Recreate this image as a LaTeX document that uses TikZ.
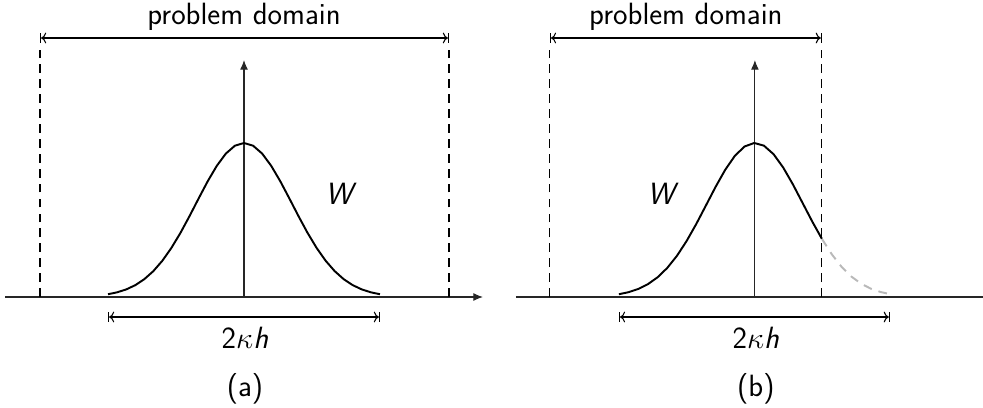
\documentclass[tikz,border=0pt]{standalone}
\usepackage{fontspec}
\usepackage{amsmath}
\usetikzlibrary{arrows.meta, positioning}
\tikzset{
  axis/.style={line width=0.6pt, draw=black!85, -{Latex[length=5.5pt, width=4.5pt]}},
  bound/.style={line width=0.6pt, dash pattern=on 5pt off 3.5pt},
  span/.style={|<->|, line width=0.6pt},
  kernel/.style={line width=1.1pt},
  ghost/.style={line width=1.1pt, draw=gray!55, dash pattern=on 5pt off 4pt},
  lbl/.style={inner sep=0pt, font=\sffamily\fontsize{17.5}{20}\selectfont},
}
\newcommand{\kwidth}{\textsf{2}$\kappa$\textsf{\itshape h}}

\begin{document}
\begin{tikzpicture}[x=0.02cm, y=-0.02cm]
  \useasboundingbox (0,0) rectangle (983,408);

  % (a) kernel fully inside the domain
  \begin{scope}
    \coordinate (a0) at (5,297);
    \coordinate (a1) at (483,297);
    \coordinate (aO) at (244,297);
    \coordinate (aT) at (244,60);
    \draw[axis] (a0) -- (a1);
    \draw[axis] (aO) -- (aT);
    \coordinate (aDL) at (40,38);
    \coordinate (aDR) at (449,38);
    \draw[bound] (40,297) -- (40,50);
    \draw[bound] (449,297) -- (449,50);
    \draw[span] (aDL) -- (aDR);
    \node[lbl] (aDom) at (244,17) {problem domain};
    \draw[kernel] plot[domain=-2.833:2.833, samples=31]
      ({244+48*\x}, {297-154*exp(-\x*\x/2)});
    \node[lbl] (aW) at (339,194) {\itshape W};
    \coordinate (aKL) at (108,317);
    \coordinate (aKR) at (380,317);
    \draw[span] (aKL) -- (aKR);
    \node[lbl] (aK) at (245,338) {\kwidth};
    \node[lbl] (aCap) at (245,389) {(a)};
  \end{scope}

  % (b) kernel cut by the boundary
  \begin{scope}[xshift=10.22cm]
    \coordinate (b0) at (5,297);
    \coordinate (b1) at (483,297);
    \coordinate (bO) at (244,297);
    \coordinate (bT) at (244,60);
    \draw[axis] (b0) -- (b1);
    \draw[axis] (bO) -- (bT);
    \coordinate (bDL) at (39,38);
    \coordinate (bDR) at (311,38);
    \draw[bound] (39,297) -- (39,50);
    \draw[bound] (311,297) -- (311,50);
    \draw[span] (bDL) -- (bDR);
    \node[lbl] (bDom) at (175,17) {problem domain};
    \draw[kernel] plot[domain=-2.833:1.396, samples=22]
      ({244+48*\x}, {297-154*exp(-\x*\x/2)});
    \draw[ghost] plot[domain=1.396:2.833, samples=8]
      ({244+48*\x}, {297-154*exp(-\x*\x/2)});
    \node[lbl] (bW) at (150,194) {\itshape W};
    \coordinate (bKL) at (108,317);
    \coordinate (bKR) at (379,317);
    \draw[span] (bKL) -- (bKR);
    \node[lbl] (bK) at (245,338) {\kwidth};
    \node[lbl] (bCap) at (245,389) {(b)};
  \end{scope}
\end{tikzpicture}
\end{document}
